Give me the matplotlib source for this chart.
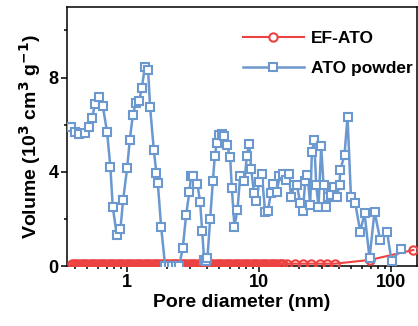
import matplotlib.pyplot as plt
from matplotlib.ticker import MultipleLocator, LogLocator, NullFormatter

plt.rcParams['font.family'] = ['Liberation Sans', 'DejaVu Sans']
plt.rcParams['font.weight'] = 'bold'
plt.rcParams['mathtext.default'] = 'bf'

# EF-ATO (pore diameter nm, volume 1e-3 cm3/g)
ef_x = [0.38, 0.395, 0.411, 0.427, 0.444, 0.462, 0.481, 0.500, 0.520, 0.541,
        0.562, 0.585, 0.608, 0.633, 0.658, 0.684, 0.712, 0.740, 0.770, 0.800,
        0.833, 0.866, 0.900, 0.936, 0.974, 1.013, 1.053, 1.095, 1.139, 1.185,
        1.232, 1.281, 1.333, 1.386, 1.441, 1.499, 1.559, 1.621, 1.686, 1.754,
        1.824, 1.897, 1.973, 2.051, 2.134, 2.219, 2.308, 2.400, 2.496, 2.596,
        2.700, 2.808, 2.920, 3.037, 3.158, 3.285, 3.416, 3.553, 3.695, 3.843,
        3.996, 4.156, 4.323, 4.495, 4.675, 4.862, 5.057, 5.259, 5.469, 5.688,
        5.916, 6.152, 6.398, 6.654, 6.920, 7.197, 7.485, 7.785, 8.096, 8.420,
        8.756, 9.107, 9.471, 9.850, 10.24, 10.65, 11.08, 11.52, 11.98, 12.46,
        12.96, 13.48, 14.02, 14.58, 15.16, 16.2, 18.7, 21.6, 24.9, 28.9,
        32.9, 37.6, 69.3, 147.0]
ef_y = [0.07, 0.07, 0.07, 0.07, 0.07, 0.07, 0.07, 0.07, 0.07, 0.07,
        0.07, 0.07, 0.07, 0.07, 0.07, 0.07, 0.07, 0.07, 0.07, 0.07,
        0.07, 0.07, 0.07, 0.07, 0.07, 0.07, 0.07, 0.07, 0.07, 0.07,
        0.07, 0.07, 0.07, 0.07, 0.07, 0.07, 0.07, 0.07, 0.07, 0.07,
        0.07, 0.07, 0.07, 0.07, 0.07, 0.07, 0.07, 0.07, 0.07, 0.07,
        0.07, 0.07, 0.07, 0.07, 0.07, 0.07, 0.07, 0.07, 0.07, 0.07,
        0.07, 0.07, 0.07, 0.07, 0.07, 0.07, 0.07, 0.07, 0.07, 0.07,
        0.07, 0.07, 0.07, 0.07, 0.07, 0.07, 0.07, 0.07, 0.07, 0.07,
        0.08, 0.08, 0.08, 0.08, 0.08, 0.08, 0.08, 0.08, 0.08, 0.08,
        0.08, 0.08, 0.09, 0.09, 0.09, 0.1, 0.1, 0.1, 0.1, 0.1,
        0.1, 0.1, 0.26, 0.68]

# ATO powder
ato_x = [0.377, 0.404, 0.435, 0.478, 0.513, 0.543, 0.572, 0.617, 0.655, 0.705,
         0.747, 0.779, 0.836, 0.890, 0.933, 1.0, 1.048, 1.105, 1.164, 1.233,
         1.292, 1.362, 1.443, 1.494, 1.593, 1.667, 1.708, 1.810, 1.941, 2.063,
         2.193, 2.331, 2.477, 2.642, 2.799, 2.965, 3.053, 3.162, 3.409, 3.573,
         3.700, 3.831, 3.946, 4.058, 4.255, 4.459, 4.617, 4.781, 4.977, 5.217,
         5.43, 5.72, 6.03, 6.21, 6.50, 6.85, 7.18, 7.74, 8.07, 8.40,
         8.70, 9.12, 9.54, 10.0, 10.48, 11.10, 11.64, 12.27, 12.83, 13.62,
         14.25, 15.12, 16.02, 16.88, 17.39, 18.42, 19.30, 20.45, 21.43, 22.31,
         23.22, 24.34, 25.07, 26.10, 27.03, 28.13, 29.49, 30.70, 32.02, 33.16,
         34.69, 36.55, 38.78, 40.58, 41.08, 44.28, 46.66, 49.52, 53.38, 58.25,
         62.79, 68.48, 74.73, 82.54, 92.78, 100.5, 119.1]
ato_y = [5.89, 5.69, 5.60, 5.63, 5.90, 6.27, 6.89, 7.18, 6.78, 5.70,
         4.21, 2.50, 1.31, 1.56, 2.80, 4.14, 5.35, 6.41, 6.92, 7.02,
         7.55, 8.44, 8.31, 6.74, 4.92, 3.94, 3.52, 1.67, 0.0, 0.0,
         0.0, 0.0, 0.0, 0.78, 2.17, 3.16, 3.84, 3.84, 3.48, 2.71,
         1.50, 0.26, 0.20, 0.33, 2.00, 3.59, 4.69, 5.22, 5.55, 5.60,
         5.50, 5.12, 4.61, 3.31, 1.67, 2.38, 3.80, 3.59, 4.69, 5.18,
         4.13, 3.12, 2.77, 3.56, 3.90, 2.28, 2.34, 3.09, 3.48, 3.16,
         3.80, 3.91, 3.66, 3.91, 2.95, 3.42, 3.45, 2.67, 2.34, 3.59,
         3.87, 2.60, 4.82, 5.36, 3.45, 2.50, 5.08, 3.45, 2.52, 2.95,
         3.02, 3.37, 2.95, 3.45, 4.06, 4.72, 6.33, 2.95, 2.67, 1.46,
         2.24, 0.33, 2.31, 1.11, 1.46, 0.23, 0.71]

red = '#EC4242'
blue = '#6A98CF'

fig = plt.figure(figsize=(4.18, 3.26), dpi=100)
ax = fig.add_axes([0.160, 0.184, 0.837, 0.795])

ax.plot(ef_x, ef_y, '-o', color=red, lw=1.5, ms=6, mfc='none', mec=red,
        mew=1.5, label='EF-ATO', zorder=3)
ax.plot(ato_x, ato_y, '-s', color=blue, lw=1.8, ms=5.8, mfc='white', mec=blue,
        mew=1.5, label='ATO powder', zorder=4)

ax.set_xscale('log')
ax.set_xlim(0.35, 156)
ax.set_ylim(0, 11)
ax.yaxis.set_major_locator(MultipleLocator(4))
ax.yaxis.set_minor_locator(MultipleLocator(2))
ax.xaxis.set_minor_locator(LogLocator(base=10, subs=range(2, 10)))
ax.xaxis.set_minor_formatter(NullFormatter())
ax.set_xticks([1, 10, 100])
ax.set_xticklabels(['1', '10', '100'])

ax.tick_params(which='both', direction='out', width=1.1, labelsize=13, pad=2)
ax.tick_params(which='major', length=4)
ax.tick_params(which='minor', length=2.5)
for s in ax.spines.values():
    s.set_linewidth(1.1)

ax.set_xlabel('Pore diameter (nm)', fontsize=14, fontweight='bold', labelpad=2)
ax.set_ylabel('Volume (10$^3$ cm$^3$ g$^{-1}$)', fontsize=14, fontweight='bold', labelpad=4)

leg = ax.legend(loc='upper left', bbox_to_anchor=(243 / 418, 1 - 31 / 326),
                bbox_transform=fig.transFigure, frameon=False, fontsize=12.5,
                handlelength=3.5, handletextpad=0.4, labelspacing=0.85,
                borderaxespad=0, borderpad=0)
leg.legend_handles[0].set_markerfacecolor('white')

plt.savefig('out.png', dpi=100)
